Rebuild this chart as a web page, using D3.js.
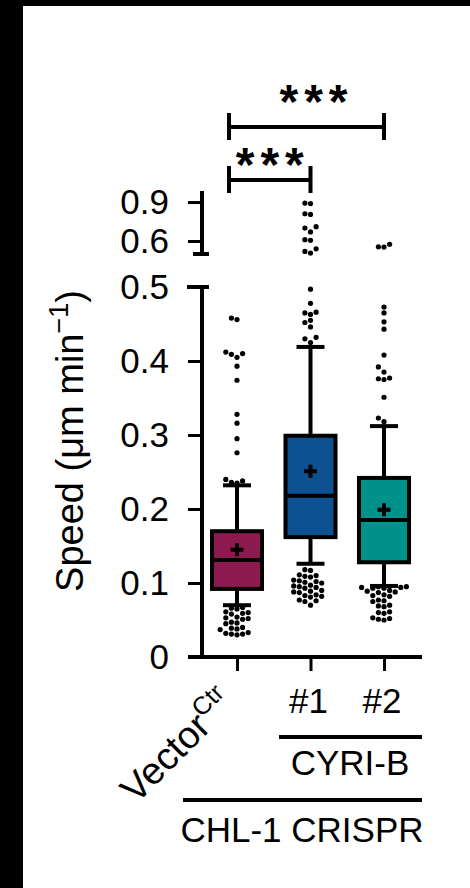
<!DOCTYPE html>
<html lang="en">
<head>
    <meta charset="utf-8">
    <title>CYRI-B speed</title>
    <style>
        body {
            margin: 0;
            background: #fff;
        }

        text {
            font-family: "Liberation Sans", Arial, sans-serif;
            fill: #000;
        }
    </style>
</head>
<body>
<div id="chart"></div>
<script src="https://d3js.org/d3.v7.min.js"></script>
<script>
    // box plot summary
    const groups = ["Vector", "#1", "#2"];
    const colors = ["#8c1a4f", "#0c5191", "#00918b"];
    const q1 = [0.092, 0.162, 0.128];
    const median = [0.131, 0.218, 0.185];
    const q3 = [0.170, 0.299, 0.242];
    const whiskerLow = [0.070, 0.126, 0.096];
    const whiskerHigh = [0.232, 0.419, 0.312];
    const means = [0.145, 0.251, 0.199];

    // outliers per group
    const outVector = [0.458, 0.456, 0.412, 0.410, 0.409, 0.405, 0.393, 0.374, 0.328, 0.316, 0.295, 0.276,
        0.240, 0.238, 0.236, 0.235,
        0.067, 0.066, 0.065, 0.061, 0.060, 0.059, 0.058, 0.054, 0.053, 0.052, 0.051,
        0.047, 0.046, 0.045, 0.040, 0.039, 0.038, 0.037, 0.033, 0.032, 0.031, 0.031, 0.030];
    const outC1 = [0.892, 0.888, 0.810, 0.805, 0.710, 0.700, 0.670, 0.610, 0.605, 0.540, 0.520, 0.507,
        0.497, 0.478, 0.466, 0.465, 0.463, 0.455, 0.452, 0.446, 0.432, 0.430, 0.425,
        0.118, 0.117, 0.111, 0.110, 0.109, 0.108, 0.104, 0.103, 0.102, 0.101, 0.100,
        0.097, 0.096, 0.095, 0.094, 0.093, 0.090, 0.089, 0.088, 0.087, 0.084, 0.083, 0.082, 0.081,
        0.077, 0.076, 0.075, 0.070];
    const outC2 = [0.575, 0.555, 0.553, 0.473, 0.465, 0.453, 0.443, 0.408, 0.392, 0.385, 0.377, 0.376,
        0.375, 0.351, 0.323, 0.318,
        0.095, 0.095, 0.094, 0.094, 0.093, 0.093, 0.090, 0.089, 0.088, 0.087, 0.084, 0.083, 0.082,
        0.077, 0.076, 0.075, 0.070, 0.069, 0.068, 0.061, 0.060, 0.059, 0.053, 0.052, 0.051, 0.050];
    const outliers = [outVector, outC1, outC2];

    const lowTicks = [0, 0.1, 0.2, 0.3, 0.4, 0.5];
    const highTicks = [0.6, 0.9];

    const width = 470;
    const height = 888;

    const svg = d3.select("#chart").append("svg")
        .attr("width", width)
        .attr("height", height);

    // black frame on the left / top of the original screenshot
    svg.append("rect").attr("width", width).attr("height", height).attr("fill", "#000");
    svg.append("rect").attr("x", 23).attr("y", 6).attr("width", width - 23).attr("height", height - 6)
        .attr("fill", "#fff");

    const axisX = 202;
    const x = d3.scalePoint().domain(groups).range([237, 384]);
    const yLow = d3.scaleLinear().domain([0, 0.5]).range([657, 287]);
    const yHigh = d3.scaleLinear().domain([0.5, 0.985]).range([254, 191]);
    const y = v => v <= 0.5 ? yLow(v) : yHigh(v);

    const boxW = 50;
    const capW = 28;
    const lw = 4;

    // y axis, lower segment
    const gLow = svg.append("g").attr("transform", `translate(${axisX},0)`)
        .call(d3.axisLeft(yLow).tickValues(lowTicks).tickSize(14).tickPadding(20)
            .tickFormat(d => d === 0 ? "0" : d3.format(".1f")(d)));
    gLow.select(".domain").remove();
    gLow.append("line").attr("y1", yLow(0) + 2).attr("y2", yLow(0.5)).attr("stroke", "#000").attr("stroke-width", lw);
    gLow.append("line").attr("x1", -15).attr("x2", 7).attr("y1", yLow(0.5)).attr("y2", yLow(0.5))
        .attr("stroke", "#000").attr("stroke-width", lw);

    // y axis, upper segment
    const gHigh = svg.append("g").attr("transform", `translate(${axisX},0)`)
        .call(d3.axisLeft(yHigh).tickValues(highTicks).tickSize(14).tickPadding(20).tickFormat(d3.format(".1f")));
    gHigh.select(".domain").remove();
    gHigh.append("line").attr("y1", yHigh(0.5)).attr("y2", yHigh(0.985)).attr("stroke", "#000").attr("stroke-width", lw);
    gHigh.append("line").attr("x1", -9).attr("x2", 7).attr("y1", yHigh(0.5)).attr("y2", yHigh(0.5))
        .attr("stroke", "#000").attr("stroke-width", lw);

    svg.selectAll(".tick line").attr("stroke", "#000").attr("stroke-width", 3);
    svg.selectAll(".tick text").style("font-size", "35px").attr("fill", "#000").attr("x", -33);

    // x axis
    const gX = svg.append("g").attr("transform", `translate(0,${yLow(0)})`)
        .call(d3.axisBottom(x).tickSize(14).tickFormat(""));
    gX.select(".domain").remove();
    gX.selectAll(".tick line").attr("stroke", "#000").attr("stroke-width", 3);
    gX.append("line").attr("x1", 188).attr("x2", 422).attr("stroke", "#000").attr("stroke-width", lw);

    // y label
    const yl = svg.append("text")
        .attr("transform", "translate(83,441) rotate(-90)")
        .attr("text-anchor", "middle")
        .style("font-size", "38px");
    yl.append("tspan").text("Speed (μm min");
    yl.append("tspan").text("−1").style("font-size", "27px").attr("dy", -15);
    yl.append("tspan").text(")").attr("dy", 15);

    // outlier dots, simple beeswarm
    const r = 2.6;
    const step = 5.6;
    outliers.forEach((vals, i) => {
        const placed = [];
        const cx = x(groups[i]);
        vals.map(v => ({v: v, py: y(v)}))
            .sort((a, b) => b.py - a.py)
            .forEach(p => {
                for (let k = 0; k < 40; k++) {
                    const off = (k % 2 === 0 ? 1 : -1) * Math.ceil(k / 2) * step;
                    const ok = placed.every(q => Math.hypot(q.px - (cx + off), q.py - p.py) >= step);
                    if (ok) {
                        p.px = cx + off;
                        placed.push(p);
                        break;
                    }
                }
            });
        svg.append("g").selectAll("circle")
            .data(placed)
            .enter().append("circle")
            .attr("cx", d => d.px)
            .attr("cy", d => d.py)
            .attr("r", r)
            .attr("fill", "#000");
    });

    // boxes
    const box = svg.append("g").selectAll("g")
        .data(groups)
        .enter().append("g");

    box.append("line")
        .attr("x1", d => x(d)).attr("x2", d => x(d))
        .attr("y1", (d, i) => y(whiskerLow[i])).attr("y2", (d, i) => y(whiskerHigh[i]))
        .attr("stroke", "#000").attr("stroke-width", lw);
    [whiskerLow, whiskerHigh].forEach(w => {
        box.append("line")
            .attr("x1", d => x(d) - capW / 2).attr("x2", d => x(d) + capW / 2)
            .attr("y1", (d, i) => y(w[i])).attr("y2", (d, i) => y(w[i]))
            .attr("stroke", "#000").attr("stroke-width", lw);
    });
    box.append("rect")
        .attr("x", d => x(d) - boxW / 2)
        .attr("width", boxW)
        .attr("y", (d, i) => y(q3[i]))
        .attr("height", (d, i) => y(q1[i]) - y(q3[i]))
        .attr("fill", (d, i) => colors[i])
        .attr("stroke", "#000").attr("stroke-width", lw);
    box.append("line")
        .attr("x1", d => x(d) - boxW / 2).attr("x2", d => x(d) + boxW / 2)
        .attr("y1", (d, i) => y(median[i])).attr("y2", (d, i) => y(median[i]))
        .attr("stroke", "#000").attr("stroke-width", lw);
    box.append("path")
        .attr("d", (d, i) => {
            const cx = x(d), cy = y(means[i]);
            return `M${cx - 6.5},${cy}H${cx + 6.5}M${cx},${cy - 6.5}V${cy + 6.5}`;
        })
        .attr("stroke", "#000").attr("stroke-width", 4);

    // significance brackets
    const sig = [
        {from: "Vector", to: "#1", level: 180, labelY: 181, shift: 3},
        {from: "Vector", to: "#2", level: 127, labelY: 118, shift: 10}
    ];
    sig.forEach(s => {
        const x1 = x(s.from) - 8, x2 = x(s.to);
        svg.append("path")
            .attr("d", `M${x1},${s.level - 14}V${s.level + 13}M${x1},${s.level}H${x2}M${x2},${s.level - 14}V${s.level + 13}`)
            .attr("fill", "none").attr("stroke", "#000").attr("stroke-width", lw);
        svg.append("text")
            .attr("x", (x1 + x2) / 2 + s.shift)
            .attr("y", s.labelY)
            .attr("text-anchor", "middle")
            .style("font-size", "48px").style("font-weight", "bold")
            .style("letter-spacing", "6px")
            .text("***");
    });

    // category labels
    const vl = svg.append("text")
        .attr("transform", `translate(${x("Vector") - 1},705) rotate(-45)`)
        .attr("text-anchor", "end")
        .style("font-size", "38px");
    vl.append("tspan").text("Vector");
    vl.append("tspan").text("Ctr").style("font-size", "25px").attr("dy", -15);

    ["#1", "#2"].forEach(g => {
        svg.append("text").attr("x", x(g) - 2).attr("y", 713).attr("text-anchor", "middle")
            .style("font-size", "35px").text(g);
    });

    svg.append("line").attr("x1", 279).attr("x2", 422).attr("y1", 737).attr("y2", 737)
        .attr("stroke", "#000").attr("stroke-width", lw);
    svg.append("text").attr("x", 350).attr("y", 775).attr("text-anchor", "middle")
        .style("font-size", "35px").text("CYRI-B");
    svg.append("line").attr("x1", 183).attr("x2", 422).attr("y1", 800).attr("y2", 800)
        .attr("stroke", "#000").attr("stroke-width", lw);
    svg.append("text").attr("x", 302).attr("y", 842).attr("text-anchor", "middle")
        .style("font-size", "35px").text("CHL-1 CRISPR");
</script>
</body>
</html>
